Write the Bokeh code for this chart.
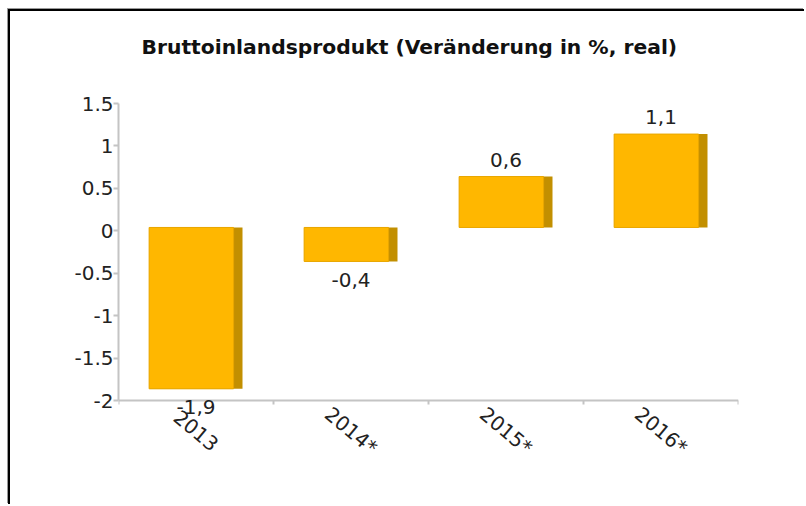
import math
from bokeh.plotting import figure
from bokeh.models import ColumnDataSource, FixedTicker, LabelSet, Range1d, Title
from bokeh.core.properties import value
from bokeh.transform import dodge
from bokeh.embed import file_html
from bokeh.resources import INLINE

# ---- data ----
categories = ["2013", "2014*", "2015*", "2016*"]
values = [-1.9, -0.4, 0.6, 1.1]
value_labels = ["-1,9", "-0,4", "0,6", "1,1"]
y_ticks = [-2, -1.5, -1, -0.5, 0, 0.5, 1, 1.5]
y_tick_labels = ["-2", "-1.5", "-1", "-0.5", "0", "0.5", "1", "1.5"]
title_text = "Bruttoinlandsprodukt (Veränderung in %, real)"

FONT = "DejaVu Sans"
FRONT = "#FFB700"
SIDE = "#C28F00"
AXIS_GREY = "#C4C4C4"
TEXT = "#222222"

n = len(categories)
xs = [i + 0.5 for i in range(n)]
src = ColumnDataSource(dict(
    x=xs,
    top=[max(v, 0) for v in values],
    bottom=[min(v, 0) for v in values],
    val=values,
    lab=value_labels,
    off=[20 if v >= 0 else -15 for v in values],
    cat=categories,
    base=[y_ticks[0]] * n,
))

# frame extends below the axis so that labels under the axis are not clipped
p = figure(width=796, height=495, output_backend="svg", toolbar_location=None,
           x_range=Range1d(0, n), y_range=Range1d(-2.94, y_ticks[-1]),
           min_border_left=108, min_border_top=92, min_border_right=68,
           min_border_bottom=26)
p.styles = {"margin-left": "8px", "margin-top": "9px",
            "border-left": "2px solid #000", "border-top": "2px solid #000",
            "box-shadow": "-1px -1px 0 #999"}
p.outline_line_color = None
p.xgrid.grid_line_color = None
p.ygrid.grid_line_color = None
p.background_fill_color = "white"
p.border_fill_color = "white"

p.title.text = title_text
p.title.align = "left"
p.title.offset = 23
p.title.standoff = 10
p.title.text_font = FONT
p.title.text_font_size = "20.3px"
p.title.text_font_style = "bold"
p.title.text_color = "#111111"
# blank spacer between the title and the plot area
p.add_layout(Title(text=" ", text_font_size="10px", standoff=27), "above")

# bars: dark side + front face
depth = 0.04
p.vbar(x="x", width=0.6, top=dodge("top", depth), bottom=dodge("bottom", depth),
       source=src, fill_color=SIDE, line_color=None)
p.vbar(x=dodge("x", -0.03), width=0.545, top=dodge("top", depth),
       bottom=dodge("bottom", depth), source=src, fill_color=FRONT,
       line_color="#E9A700", line_width=1)

# value labels
p.add_layout(LabelSet(x="x", y="val", text="lab", y_offset="off", source=src,
                      text_align="center", text_baseline="middle",
                      text_font=value(FONT), text_font_size="20px",
                      text_color=TEXT))

# category labels (rotated)
p.add_layout(LabelSet(x="x", y="base", text="cat", y_offset=-30, source=src,
                      angle=-40 * math.pi / 180, text_align="center",
                      text_baseline="middle", text_font=value(FONT),
                      text_font_size="20px", text_color=TEXT))

# axes
ya = p.yaxis[0]
ya.ticker = FixedTicker(ticks=y_ticks)
ya.bounds = (y_ticks[0], y_ticks[-1])
ya.major_label_overrides = {t: l for t, l in zip(y_ticks, y_tick_labels)}
ya.axis_line_color = AXIS_GREY
ya.axis_line_width = 2
ya.major_tick_line_color = AXIS_GREY
ya.major_tick_line_width = 2
ya.major_tick_in = 0
ya.major_tick_out = 5
ya.minor_tick_line_color = None
ya.major_label_standoff = 0
ya.major_label_text_font = FONT
ya.major_label_text_font_size = "20px"
ya.major_label_text_color = TEXT

xa = p.xaxis[0]
xa.fixed_location = y_ticks[0]
xa.ticker = FixedTicker(ticks=list(range(n + 1)))
xa.major_label_text_font_size = "0px"
xa.major_label_text_color = None
xa.axis_line_color = AXIS_GREY
xa.axis_line_width = 2
xa.major_tick_line_color = AXIS_GREY
xa.major_tick_line_width = 2
xa.major_tick_in = 0
xa.major_tick_out = 4
xa.minor_tick_line_color = None

open("out.html", "w").write(file_html(p, INLINE))
